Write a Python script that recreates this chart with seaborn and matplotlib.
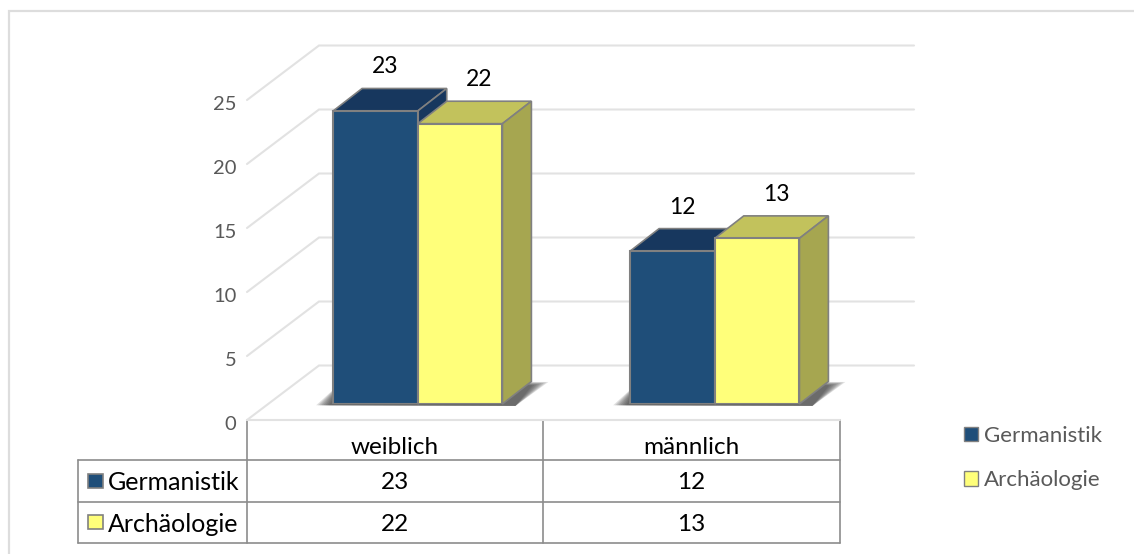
import matplotlib
matplotlib.use("Agg")
import matplotlib.pyplot as plt
from matplotlib.patches import Polygon, Rectangle, Patch
from matplotlib.transforms import ScaledTranslation
import pandas as pd
import seaborn as sns

categories = ["weiblich", "männlich"]
series_names = ["Germanistik", "Archäologie"]
germanistik = [23, 12]
archaeologie = [22, 13]
y_ticks = [0, 5, 10, 15, 20, 25]

W, H = 1134, 554
FRONT = {"Germanistik": "#1F4E79", "Archäologie": "#FFFF7A"}
TOP = {"Germanistik": "#17375E", "Archäologie": "#C2C25C"}
SIDE = {"Germanistik": "#17375E", "Archäologie": "#A6A650"}
EDGE = "#808080"
GRID = "#E2E2E2"
FONT = "Lato"

sns.set_theme(style="white")
plt.rcParams["font.family"] = [FONT, "DejaVu Sans"]

df = pd.DataFrame({
    "Geschlecht": categories * 2,
    "Fach": [series_names[0]] * 2 + [series_names[1]] * 2,
    "Wert": germanistik + archaeologie,
})


def axes_px(fig, x0, y_top, x1, y_bottom, **kw):
    return fig.add_axes([x0 / W, 1 - y_bottom / H, (x1 - x0) / W, (y_bottom - y_top) / H], **kw)


fig = plt.figure(figsize=(W / 100, H / 100), dpi=100, facecolor="white")

# overlay in pixel coordinates for frame and table
page = axes_px(fig, 0, 0, W, H, zorder=0)
page.set_xlim(0, W)
page.set_ylim(H, 0)
page.axis("off")
page.plot([8.5, 8.5, W], [H, 10.5, 10.5], color="#DDDDDD", lw=1.6, solid_joinstyle="miter")

# back walls and tick labels
wall = axes_px(fig, 247, 100, 914, 420, zorder=1)
wall.set_xlim(247, 914)
wall.set_ylim(0, 25)
wall.patch.set_visible(False)
sns.despine(ax=wall, left=True, bottom=True)
wall.set_yticks(y_ticks)
wall.set_xticks([])
wall.tick_params(axis="y", length=0, pad=7.5, labelsize=14.5, labelcolor="#595959")
label_shift = ScaledTranslation(0, -2.5 / 100, fig.dpi_scale_trans)
for t in wall.get_yticklabels():
    t.set_verticalalignment("center_baseline")
    t.set_transform(t.get_transform() + label_shift)
wall_dx, wall_dv = 72, 54.5 / 12.8
for v in y_ticks:
    wall.plot([247, 247 + wall_dx, 914], [v, v + wall_dv, v + wall_dv], color=GRID, lw=1.5,
              clip_on=False, solid_joinstyle="miter")
wall.plot([247, 840], [0, 0], color=GRID, lw=1.5, clip_on=False)

# bars in the front plane
ax = axes_px(fig, 269.25, 85.5, 863.25, 404, zorder=2)
sns.barplot(data=df, x="Geschlecht", y="Wert", hue="Fach", palette=FRONT, width=0.57, gap=0,
            edgecolor=EDGE, linewidth=1.5, dodge=True, legend=False, ax=ax, saturation=1, zorder=5)
ax.set_xlim(-0.5, 1.5)
ax.set_ylim(0, 25)
ax.axis("off")

dx = 29 / 297
dy = 22.5 / 12.74
bars = [p for p in ax.patches if p.get_width() > 0]
order = sorted(bars, key=lambda p: p.get_x())
label_px = {series_names[0]: 9.5, series_names[1]: 19}
for i, p in enumerate(order):
    name = series_names[i % 2]
    x0, x1, h = p.get_x(), p.get_x() + p.get_width(), p.get_height()
    # floor shadow
    if i % 2 == 0:
        xs0 = x0
        xs1 = order[i + 1].get_x() + order[i + 1].get_width()
        for k in range(8):
            f = k / 7
            ax.add_patch(Polygon(
                [(xs0 - (17 - 13 * f) / 297, -0.1), (xs1 + dx * 0.45, -0.15),
                 (xs1 + dx + (17 - 16 * f) / 297, dy * (0.98 - .15 * f)), (xs0 + dx * .3, dy * .98)],
                closed=True, fc="#303030", ec="none", alpha=0.14, zorder=1, clip_on=False))
    ax.add_patch(Polygon([(x0, h), (x1, h), (x1 + dx, h + dy), (x0 + dx, h + dy)], closed=True,
                         fc=TOP[name], ec=EDGE, lw=1.2, zorder=3 + (i % 2), clip_on=False))
    ax.add_patch(Polygon([(x1, 0), (x1 + dx, dy), (x1 + dx, h + dy), (x1, h)], closed=True,
                         fc=SIDE[name], ec=EDGE, lw=1.2, zorder=3 + (i % 2), clip_on=False))
    p.set_zorder(6)
    ax.annotate(f"{h:.0f}", (p.get_x() + p.get_width() / 2, h), xytext=(label_px[name] * 0.72, 46 * 0.72),
                textcoords="offset points", ha="center", va="center_baseline", fontsize=16.5, color="black",
                annotation_clip=False, zorder=8)

# data table
col_x = [78, 247, 543, 840]
row_y = [420, 460, 501.5, 543]
lc = "#8C8C8C"
page.plot([col_x[1], col_x[1]], [row_y[0], row_y[3]], color=lc, lw=1.2)
page.plot([col_x[2], col_x[2]], [row_y[0], row_y[3]], color=lc, lw=1.2)
page.plot([col_x[3], col_x[3]], [row_y[0], row_y[3]], color=lc, lw=1.2)
page.plot([col_x[0], col_x[0]], [row_y[1], row_y[3]], color=lc, lw=1.2)
for y in row_y[1:]:
    page.plot([col_x[0], col_x[3]], [y, y], color=lc, lw=1.2)
for j, cat in enumerate(categories):
    cx = (col_x[j + 1] + col_x[j + 2]) / 2
    page.text(cx, (row_y[0] + row_y[1]) / 2 + 5, cat, ha="center", va="center_baseline", fontsize=17.5, color="black")
    for r, vals in enumerate([germanistik, archaeologie]):
        page.text(cx, (row_y[r + 1] + row_y[r + 2]) / 2, str(vals[j]), ha="center", va="center_baseline",
                  fontsize=17.5, color="black")
for r, name in enumerate(series_names):
    cy = (row_y[r + 1] + row_y[r + 2]) / 2
    page.add_patch(Rectangle((87.5, cy - 7), 15, 14, fc=FRONT[name], ec=EDGE, lw=1.2))
    page.text(108, cy, name, ha="left", va="center_baseline", fontsize=18, color="black")

# legend
handles = [Patch(facecolor=FRONT[n], edgecolor=EDGE, lw=1.0, label=n) for n in series_names]
fig.legend(handles=handles, loc="upper left", bbox_to_anchor=(964 / W, 1 - 426 / H), frameon=False,
           fontsize=16, labelcolor="#595959", handlelength=0.63, handleheight=0.63, handletextpad=0.27,
           labelspacing=1.1, borderpad=0, borderaxespad=0)

fig.savefig("out.png", dpi=100)
